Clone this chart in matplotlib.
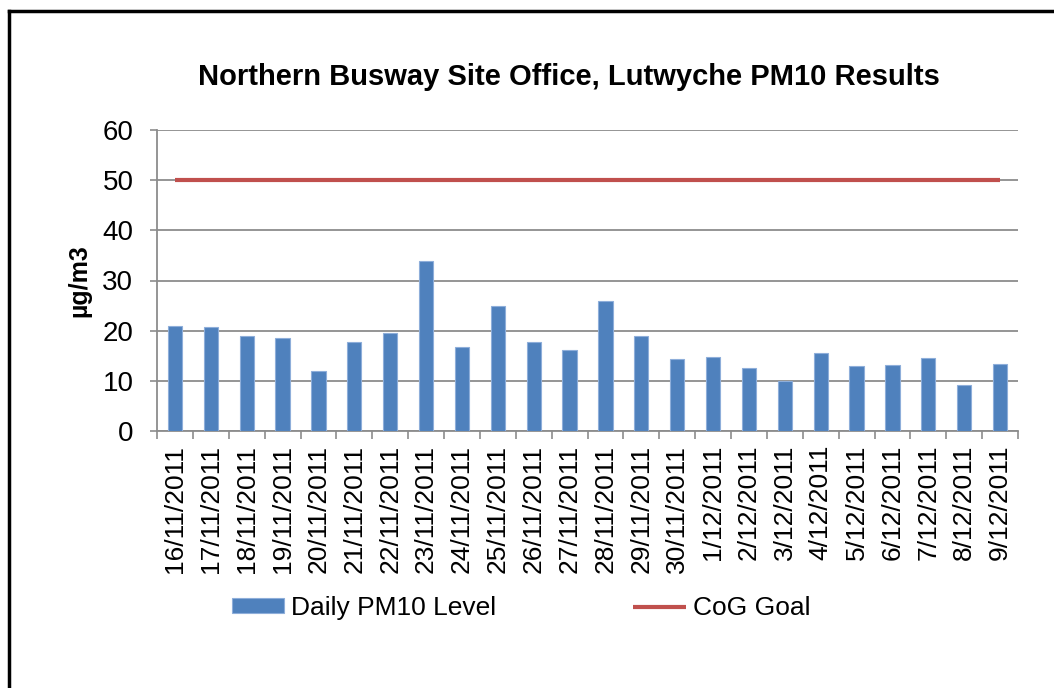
import matplotlib
matplotlib.use("Agg")
import matplotlib.pyplot as plt
import numpy as np
from matplotlib.lines import Line2D

plt.rcParams['font.family'] = ['Liberation Sans', 'DejaVu Sans']

dates = ["16/11/2011", "17/11/2011", "18/11/2011", "19/11/2011", "20/11/2011",
         "21/11/2011", "22/11/2011", "23/11/2011", "24/11/2011", "25/11/2011",
         "26/11/2011", "27/11/2011", "28/11/2011", "29/11/2011", "30/11/2011",
         "1/12/2011", "2/12/2011", "3/12/2011", "4/12/2011", "5/12/2011",
         "6/12/2011", "7/12/2011", "8/12/2011", "9/12/2011"]
pm10 = [21.0, 20.7, 18.9, 18.6, 12.0, 17.7, 19.6, 33.8, 16.7, 25.0,
        17.7, 16.2, 26.0, 18.9, 14.4, 14.8, 12.5, 10.0, 15.5, 12.9,
        13.2, 14.6, 9.1, 13.4]
goal = [50] * len(dates)
yticks = [0, 10, 20, 30, 40, 50, 60]

W, H = 1054, 688
fig = plt.figure(figsize=(W / 100, H / 100), dpi=100)
ax = fig.add_axes([157 / W, 1 - 431 / H, (1018 - 157) / W, (431 - 130) / H])

x = np.arange(len(dates))
bars = ax.bar(x, pm10, width=0.4, color="#4F81BD", edgecolor="#8EAEDA", linewidth=0.8,
              label="Daily PM10 Level", zorder=3)
line, = ax.plot(x, goal, color="#C0504D", linewidth=3.0, label="CoG Goal", zorder=4,
                solid_capstyle="butt")

ax.set_xlim(-0.5, len(dates) - 0.5)
ax.set_ylim(0, 60)
ax.set_yticks(yticks)
ax.set_yticklabels([str(v) for v in yticks])
ax.yaxis.grid(True, color="#8C8C8C", linewidth=1.3, zorder=0)
ax.set_axisbelow(True)

ax.set_xticks(x)
ax.set_xticklabels(dates, rotation=90)
ax.set_xticks(np.arange(len(dates) + 1) - 0.5, minor=True)
ax.tick_params(axis="x", which="major", length=0, pad=10, labelsize=19)
ax.tick_params(axis="x", which="minor", length=6, width=1.2, color="#8C8C8C", direction="out")
ax.tick_params(axis="y", length=5, width=1.2, color="#8C8C8C", direction="out",
               labelsize=20, pad=12)

for s in ["top", "right"]:
    ax.spines[s].set_visible(False)
for s in ["left", "bottom"]:
    ax.spines[s].set_color("#8C8C8C")
    ax.spines[s].set_linewidth(1.3)

ax.set_ylabel("µg/m3", fontsize=18, fontweight="bold", labelpad=8)

fig.text(569 / W, 1 - 77 / H, "Northern Busway Site Office, Lutwyche PM10 Results",
         ha="center", va="center", fontsize=21, fontweight="bold")

ax.legend(handles=[bars, line], loc="center", bbox_to_anchor=(521 / W, 1 - 608 / H),
          bbox_transform=fig.transFigure, ncol=2, frameon=False, fontsize=19,
          handlelength=2.0, handleheight=0.5, handletextpad=0.25, columnspacing=5.2)

# outer chart frame (left and top edges visible)
fig.add_artist(Line2D([9 / W, 9 / W], [0, 1 - 11 / H], transform=fig.transFigure,
                      color="black", linewidth=2.5))
fig.add_artist(Line2D([9 / W, 1], [1 - 11 / H, 1 - 11 / H], transform=fig.transFigure,
                      color="black", linewidth=2.5, solid_capstyle="projecting"))

fig.savefig("out.png", dpi=100)
